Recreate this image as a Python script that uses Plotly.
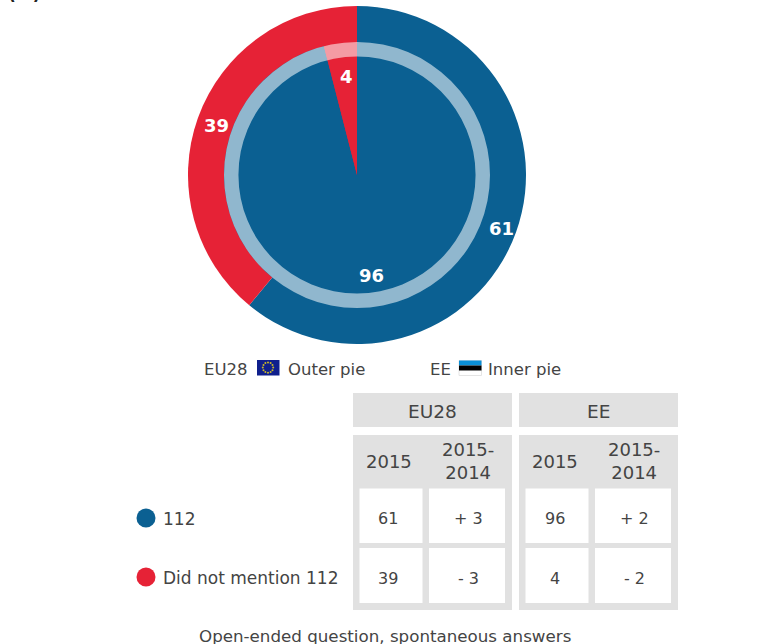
import math
import plotly.graph_objects as go

W, H = 769, 644
categories = ["112", "Did not mention 112"]
eu28_2015 = [61, 39]
eu28_diff = ["+ 3", "- 3"]
ee_2015 = [96, 4]
ee_diff = ["+ 2", "- 2"]
colors = ["#0b6092", "#e62236"]
TXT = "#444444"
FONT = "DejaVu Sans"
GREY = "#e1e1e1"


def dom(x0, x1, y0, y1):
    return dict(x=[x0 / W, x1 / W], y=[1 - y1 / H, 1 - y0 / H])


CX, CY = 357, 175
fig = go.Figure()
common = dict(sort=False, direction="clockwise", rotation=0, textinfo="none",
              hoverinfo="skip", showlegend=False, marker_line_width=0)
fig.add_trace(go.Pie(values=eu28_2015, labels=categories, marker_colors=colors,
                     domain=dom(CX - 169, CX + 169, CY - 169, CY + 169), **common))
fig.add_trace(go.Pie(values=ee_2015, labels=categories, marker_colors=colors,
                     domain=dom(CX - 133, CX + 133, CY - 133, CY + 133), **common))
fig.add_trace(go.Pie(values=[1], labels=["ring"], marker_colors=["rgba(255,255,255,0.55)"],
                     hole=118.5 / 133,
                     domain=dom(CX - 133, CX + 133, CY - 133, CY + 133), **common))

# EU flag stars
stars_x = [268 + 5.2 * math.sin(i * math.pi / 6) for i in range(12)]
stars_y = [367.6 - 5.2 * math.cos(i * math.pi / 6) for i in range(12)]
fig.add_trace(go.Scatter(x=stars_x, y=stars_y, mode="markers", hoverinfo="skip", showlegend=False,
                         marker=dict(symbol="circle", size=2, color="#c9b82a"), xaxis="x", yaxis="y"))

shapes = []


def rect(x0, y0, x1, y1, fill, line=None):
    shapes.append(dict(type="rect", xref="x", yref="y", x0=x0, y0=y0, x1=x1, y1=y1, fillcolor=fill,
                       line=dict(width=1 if line else 0, color=line or fill), layer="below"))


# table panels
rect(353, 393, 512, 427, GREY)
rect(519, 393, 678, 427, GREY)
rect(353, 435, 512, 610, GREY)
rect(519, 435, 678, 610, GREY)
cols = [(359.5, 422.5), (429, 505), (525.5, 588.5), (595, 671)]
rows = [(488.5, 543), (548, 603)]
for c in cols:
    for r in rows:
        rect(c[0], r[0], c[1], r[1], "white")

# flags
rect(257, 360, 279.5, 375.5, "#0f1f8c")
rect(459, 360.5, 481.5, 375.5, "#ffffff", "#e4e4e4")
rect(459, 360.5, 481.5, 365.5, "#0a8fd6")
rect(459, 365.5, 481.5, 370.5, "#000000")

# legend dots
for y, col in zip((518, 577), colors):
    shapes.append(dict(type="circle", xref="x", yref="y", x0=136.5, x1=155.5, y0=y - 9.5, y1=y + 9.5,
                       fillcolor=col, line_width=0, layer="below"))

ann = []


def text(x, y, s, size=17, color=TXT, anchor="center", bold=False):
    ann.append(dict(x=x, y=y, xref="x", yref="y", text=f"<b>{s}</b>" if bold else s, showarrow=False,
                    xanchor=anchor, yanchor="middle", align="center",
                    font=dict(family=FONT, size=size, color=color)))


# pie labels
text(501, 228, eu28_2015[0], 18, "white", bold=True)
text(216, 125, eu28_2015[1], 18, "white", bold=True)
text(371, 275, ee_2015[0], 18, "white", bold=True)
text(346, 76, ee_2015[1], 18, "white", bold=True)

text(202, 369, "EU28", anchor="left", size=16.5)
text(286, 369, "Outer pie", anchor="left", size=16.5)
text(428, 369, "EE", anchor="left", size=16.5)
text(486, 369, "Inner pie", anchor="left", size=16.5)

text(432, 411, "EU28", 18.5)
text(598, 411, "EE", 18.5)
text(388.5, 461, "2015", 18)
text(468, 461, "2015-<br>2014", 18)
text(555, 461, "2015", 18)
text(634, 461, "2015-<br>2014", 18)

for i, cat in enumerate(categories):
    y = (518.5, 578)[i]
    text(161, y, cat, anchor="left", size=17)
    text(388, y, eu28_2015[i], 16)
    text(468, y, eu28_diff[i], 16)
    text(555, y, ee_2015[i], 16)
    text(634, y, ee_diff[i], 16)

text(385, 636, "Open-ended question, spontaneous answers", 16.7)
ann.append(dict(x=24 / W, y=1 + 6 / H, xref="paper", yref="paper", text="<b>(%)</b>", showarrow=False,
                xanchor="center", yanchor="middle", font=dict(family=FONT, size=17, color="#222222")))

fig.update_layout(
    width=W, height=H, margin=dict(l=0, r=0, t=0, b=0), autosize=False,
    paper_bgcolor="white", plot_bgcolor="rgba(0,0,0,0)",
    xaxis=dict(range=[0, W], visible=False, domain=[0, 1], fixedrange=True),
    yaxis=dict(range=[H, 0], visible=False, domain=[0, 1], fixedrange=True),
    shapes=shapes, annotations=ann,
)
fig.write_html("out.html", config=dict(displayModeBar=False),
               post_script="document.body.style.margin='0';document.documentElement.style.overflow='hidden';")
